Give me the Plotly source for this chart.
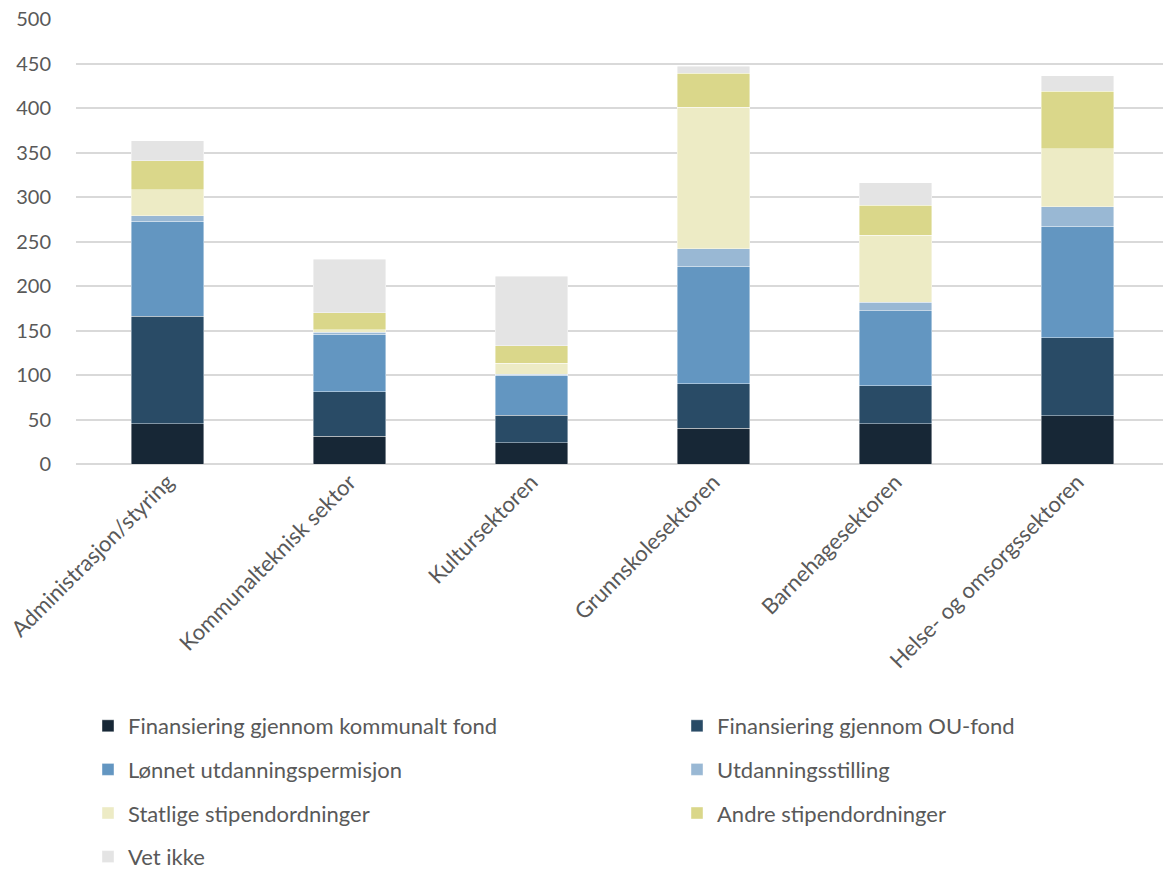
import plotly.graph_objects as go

# Sectors along the x-axis
sectors = [
    "Administrasjon/styring",
    "Kommunalteknisk sektor",
    "Kultursektoren",
    "Grunnskolesektoren",
    "Barnehagesektoren",
    "Helse- og omsorgssektoren",
]

# Stacked series, bottom to top
kommunalt_fond = [45, 31, 24, 40, 45, 54]
ou_fond = [121, 50, 31, 50, 43, 88]
lonnet_permisjon = [107, 65, 45, 132, 84, 125]
utdanningsstilling = [6, 2, 1, 20, 10, 22]
statlige_stipend = [29, 3, 12, 159, 75, 65]
andre_stipend = [33, 19, 20, 38, 34, 65]
vet_ikke = [22, 60, 78, 8, 25, 17]

series = [
    ("Finansiering gjennom kommunalt fond", kommunalt_fond, "#172736", "legend"),
    ("Finansiering gjennom OU-fond", ou_fond, "#294b66", "legend2"),
    ("Lønnet utdanningspermisjon", lonnet_permisjon, "#6396c1", "legend"),
    ("Utdanningsstilling", utdanningsstilling, "#99b8d4", "legend2"),
    ("Statlige stipendordninger", statlige_stipend, "#edebc5", "legend"),
    ("Andre stipendordninger", andre_stipend, "#dad78a", "legend2"),
    ("Vet ikke", vet_ikke, "#e4e4e4", "legend"),
]

FONT = "Lato, 'Open Sans', sans-serif"
TEXT = "#595959"

fig = go.Figure()
for i, (name, vals, color, lg) in enumerate(series):
    fig.add_trace(go.Bar(
        x=list(range(len(sectors))),
        y=vals,
        name=name,
        legend=lg,
        legendgroup=f"g{i}",
        width=0.4,
        marker=dict(color=color, line=dict(color="rgba(255,255,255,0.6)", width=0.7)),
    ))

legend_style = dict(
    orientation="v",
    traceorder="grouped",
    tracegroupgap=12,
    font=dict(family=FONT, size=22, color=TEXT),
    bgcolor="rgba(0,0,0,0)",
    xref="container",
    yref="container",
    xanchor="left",
    yanchor="top",
    itemclick=False,
)

fig.update_layout(
    width=1163,
    height=872,
    barmode="stack",
    plot_bgcolor="white",
    paper_bgcolor="white",
    margin=dict(l=76, r=0, t=19, b=408, autoexpand=False),
    font=dict(family=FONT, size=20, color=TEXT),
    xaxis=dict(
        range=[-0.503, 5.47],
        tickmode="array",
        tickvals=list(range(len(sectors))),
        ticktext=sectors,
        tickangle=-45,
        showgrid=False,
        showline=False,
        zeroline=False,
        ticks="",
        automargin=False,
        tickfont=dict(family=FONT, size=22, color=TEXT),
    ),
    yaxis=dict(
        range=[0, 500],
        dtick=50,
        showgrid=True,
        gridcolor="#d9d9d9",
        gridwidth=1.5,
        zeroline=True,
        zerolinecolor="#d9d9d9",
        zerolinewidth=1.5,
        showline=False,
        ticks="outside",
        ticklen=20,
        tickcolor="rgba(0,0,0,0)",
        automargin=False,
        tickfont=dict(family=FONT, size=20, color=TEXT),
    ),
    legend=dict(legend_style, x=88 / 1163, y=1 - 705 / 872),
    legend2=dict(legend_style, x=677 / 1163, y=1 - 705 / 872),
    showlegend=True,
)

fig.write_html("out.html")
